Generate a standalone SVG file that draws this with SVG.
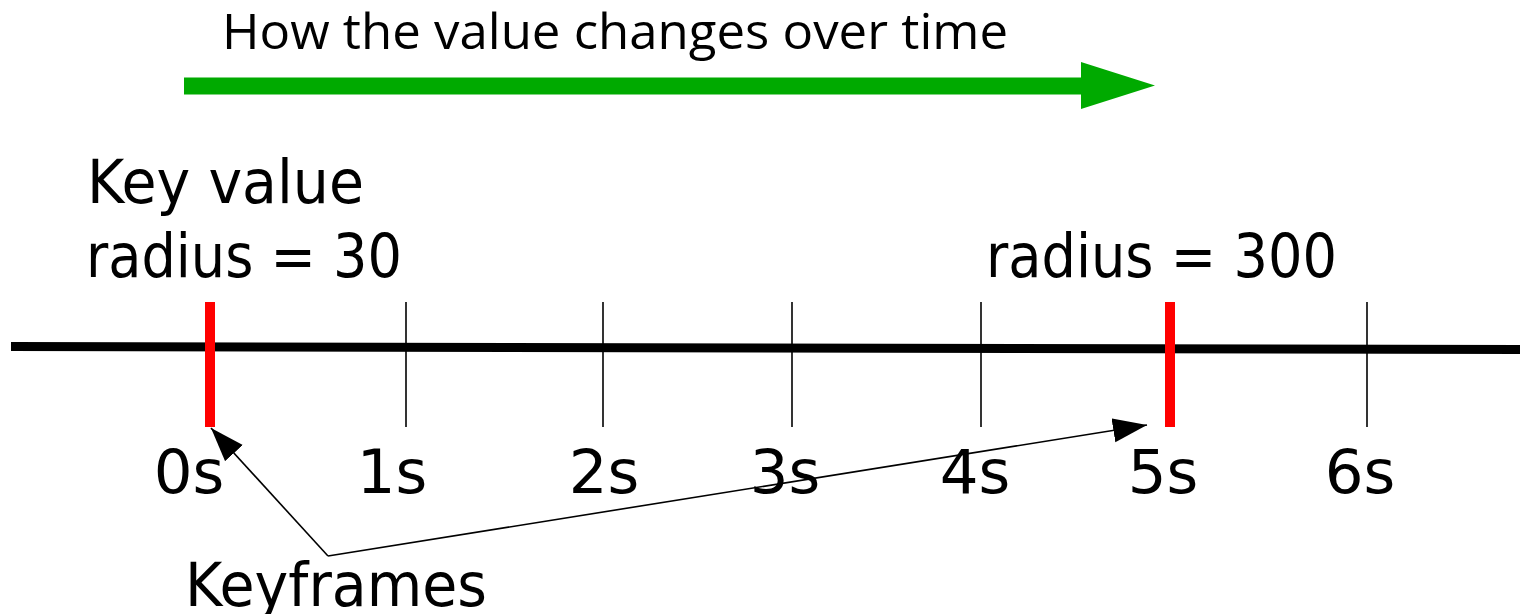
<svg xmlns="http://www.w3.org/2000/svg" width="1520" height="614" viewBox="0 0 1520 614">
<style>
.lbl{font-family:"DejaVu Sans",sans-serif;font-size:61px;fill:#000}
.tick{stroke:#000;stroke-width:1.6}
.key{stroke:#ff0000;stroke-width:10}
.conn{stroke:#000;stroke-width:1.6;fill:none}
</style>
<defs>
<marker id="ah" markerUnits="userSpaceOnUse" markerWidth="40" markerHeight="30" refX="34" refY="12" orient="auto">
<path d="M0,0 L34,12 L0,24 Z" fill="#000"/>
</marker>
</defs>
<rect width="1520" height="614" fill="#fff"/>
<g id="title">
<text x="222" y="49" style="font-family:'Open Sans','Noto Sans',sans-serif;font-size:49px;fill:#000" textLength="786" lengthAdjust="spacingAndGlyphs">How the value changes over time</text>
</g>
<g id="time-arrow">
<path d="M184,77.5 L1081,77.5 L1081,62 L1155,85.5 L1081,109 L1081,94.5 L184,94.5 Z" fill="#00aa00"/>
</g>
<g id="timeline">
<line x1="11" y1="346.5" x2="1520" y2="349.5" stroke="#000" stroke-width="9"/>
<line class="tick" x1="406" y1="302" x2="406" y2="427"/>
<line class="tick" x1="603" y1="302" x2="603" y2="427"/>
<line class="tick" x1="792" y1="302" x2="792" y2="427"/>
<line class="tick" x1="981" y1="302" x2="981" y2="427"/>
<line class="tick" x1="1367" y1="302" x2="1367" y2="427"/>
</g>
<g id="keyframe-0">
<line class="key" x1="210" y1="302" x2="210" y2="427"/>
</g>
<g id="keyframe-5">
<line class="key" x1="1170" y1="302" x2="1170" y2="427"/>
</g>
<g id="labels">
<text class="lbl" x="189" y="493" text-anchor="middle">0s</text>
<text class="lbl" x="392" y="493" text-anchor="middle">1s</text>
<text class="lbl" x="604" y="493" text-anchor="middle">2s</text>
<text class="lbl" x="785" y="493" text-anchor="middle">3s</text>
<text class="lbl" x="975" y="493" text-anchor="middle">4s</text>
<text class="lbl" x="1163" y="493" text-anchor="middle">5s</text>
<text class="lbl" x="1360" y="493" text-anchor="middle">6s</text>
</g>
<g id="key-value-label">
<text class="lbl" x="87" y="203" textLength="277" lengthAdjust="spacingAndGlyphs">Key value</text>
<text class="lbl" x="86" y="277" textLength="316" lengthAdjust="spacingAndGlyphs">radius = 30</text>
</g>
<g id="radius-300-label">
<text class="lbl" x="986" y="277" textLength="351" lengthAdjust="spacingAndGlyphs">radius = 300</text>
</g>
<g id="keyframes-label">
<text class="lbl" x="185" y="606" textLength="302" lengthAdjust="spacingAndGlyphs">Keyframes</text>
</g>
<g id="connectors">
<path class="conn" d="M328,556 L211,428" marker-end="url(#ah)"/>
<path class="conn" d="M328,556 L1147,425" marker-end="url(#ah)"/>
</g>
</svg>
